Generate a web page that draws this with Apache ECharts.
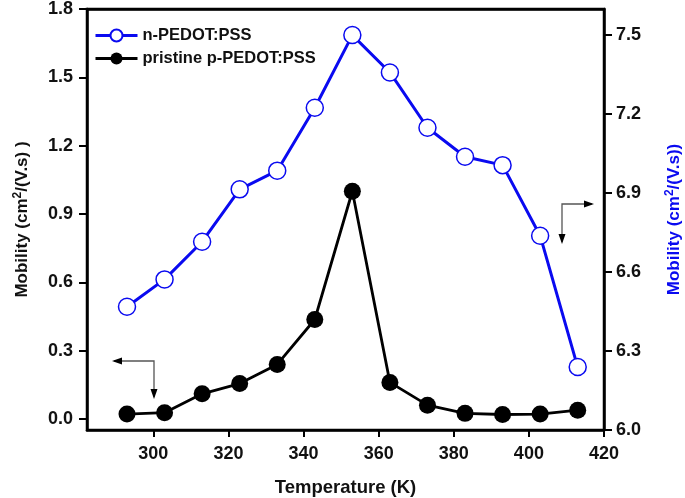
<!DOCTYPE html>
<html><head><meta charset="utf-8">
<script src="https://cdn.jsdelivr.net/npm/echarts@6/dist/echarts.min.js"></script>
<style>html,body{margin:0;padding:0;background:#fff}#c{width:685px;height:498px}</style>
</head><body><div id="c"></div>
<script>
const temperatures = [293, 303, 313, 323, 333, 343, 353, 363, 373, 383, 393, 403, 413];
const pristineMobility = [0.022, 0.028, 0.111, 0.156, 0.240, 0.437, 1.000, 0.161, 0.061, 0.025, 0.020, 0.022, 0.039];
const nMobility = [6.468, 6.572, 6.715, 6.914, 6.985, 7.224, 7.500, 7.358, 7.148, 7.038, 7.006, 6.738, 6.239];
const xTicks = [300, 320, 340, 360, 380, 400, 420];
const leftTicks = [0.0, 0.3, 0.6, 0.9, 1.2, 1.5, 1.8];
const rightTicks = [6.0, 6.3, 6.6, 6.9, 7.2, 7.5];

const FONT = '"Liberation Sans", Arial, sans-serif';
const BLUE = '#0a0af0';
const chart = echarts.init(document.getElementById('c'), null, {renderer: 'canvas'});
const lab = {fontFamily: FONT, fontWeight: 'bold', fontSize: 18, color: '#111'};
const axLine = {show: true, onZero: false, lineStyle: {color: '#000', width: 2.5}};

const arrowColor = '#555';
function head(tip, dir) {
  const L = 10, W = 3.5; let pts;
  if (dir === 'left') pts = [[tip[0], tip[1]], [tip[0] + L, tip[1] - W], [tip[0] + L, tip[1] + W]];
  else if (dir === 'right') pts = [[tip[0], tip[1]], [tip[0] - L, tip[1] - W], [tip[0] - L, tip[1] + W]];
  else pts = [[tip[0], tip[1]], [tip[0] - W, tip[1] - L], [tip[0] + W, tip[1] - L]];
  return {type: 'polygon', shape: {points: pts}, style: {fill: '#000'}, z: 10};
}

chart.setOption({
  animation: false,
  backgroundColor: '#fff',
  grid: {left: 87, right: 81, top: 9, bottom: 68, outerBoundsMode: 'none', containLabel: false,
    show: true, borderColor: '#000', borderWidth: 2.5, backgroundColor: 'transparent'},
  legend: {
    left: 89, top: 22, orient: 'vertical', itemWidth: 42, itemHeight: 15, itemGap: 6,
    lineStyle: {width: 3},
    textStyle: {fontFamily: FONT, fontWeight: 'bold', fontSize: 16.5, color: '#111'},
    data: ['n-PEDOT:PSS', 'pristine p-PEDOT:PSS']
  },
  xAxis: [{
    type: 'value', min: 282.35, max: 420, position: 'bottom',
    name: 'Temperature (K)', nameLocation: 'middle', nameGap: 48,
    nameTextStyle: {fontFamily: FONT, fontWeight: 'bold', fontSize: 18.5, color: '#111'},
    axisLine: axLine,
    axisTick: {show: true, inside: false, length: 7, lineStyle: {color: '#000', width: 2}, customValues: xTicks},
    axisLabel: Object.assign({margin: 15, customValues: xTicks}, lab),
    splitLine: {show: false}
  }, {
    type: 'value', min: 282.35, max: 420, position: 'top',
    axisLine: axLine, axisTick: {show: false}, axisLabel: {show: false}, splitLine: {show: false}
  }],
  yAxis: [{
    type: 'value', min: -0.048, max: 1.8, position: 'left',
    name: 'Mobility (cm{sup|2}/(V.s) )', nameLocation: 'middle', nameGap: 55,
    nameTextStyle: {fontFamily: FONT, fontWeight: 'bold', fontSize: 17, color: '#111',
      rich: {sup: {fontFamily: FONT, fontWeight: 'bold', fontSize: 12, color: '#111', verticalAlign: 'top', padding: [0, 0, 8, 0]}}},
    axisLine: axLine,
    axisTick: {show: true, inside: false, length: 8, lineStyle: {color: '#000', width: 2}, customValues: leftTicks},
    axisLabel: Object.assign({margin: 14, customValues: leftTicks, formatter: v => v.toFixed(1)}, lab),
    splitLine: {show: false}
  }, {
    type: 'value', min: 6.0, max: 7.599, position: 'right',
    name: 'Mobility (cm{sup|2}/(V.s))', nameLocation: 'middle', nameGap: 60,
    nameTextStyle: {fontFamily: FONT, fontWeight: 'bold', fontSize: 17, color: BLUE,
      rich: {sup: {fontFamily: FONT, fontWeight: 'bold', fontSize: 12, color: BLUE, verticalAlign: 'top', padding: [0, 0, 8, 0]}}},
    axisLine: axLine,
    axisTick: {show: true, inside: false, length: 8, lineStyle: {color: '#000', width: 2}, customValues: rightTicks},
    axisLabel: Object.assign({margin: 12, customValues: rightTicks, formatter: v => v.toFixed(1)}, lab),
    splitLine: {show: false}
  }],
  series: [{
    name: 'n-PEDOT:PSS', type: 'line', xAxisIndex: 0, yAxisIndex: 1,
    data: temperatures.map((t, i) => [t, nMobility[i]]),
    symbol: 'circle', symbolSize: 17,
    lineStyle: {color: BLUE, width: 3},
    itemStyle: {color: '#fff', borderColor: BLUE, borderWidth: 1.5},
    z: 3
  }, {
    name: 'pristine p-PEDOT:PSS', type: 'line', xAxisIndex: 0, yAxisIndex: 0,
    data: temperatures.map((t, i) => [t, pristineMobility[i]]),
    symbol: 'circle', symbolSize: 17,
    lineStyle: {color: '#000', width: 2.8},
    itemStyle: {color: '#000', borderColor: '#000', borderWidth: 0},
    z: 3
  }],
  graphic: [
    {type: 'polyline', shape: {points: [[114, 361], [154, 361], [154, 397]]}, style: {stroke: arrowColor, lineWidth: 1.3, fill: null}, z: 9},
    head([112, 361], 'left'), head([154, 399], 'down'),
    {type: 'polyline', shape: {points: [[592, 204], [562, 204], [562, 242]]}, style: {stroke: arrowColor, lineWidth: 1.3, fill: null}, z: 9},
    head([594, 204], 'right'), head([562, 244], 'down')
  ]
});
</script></body></html>
